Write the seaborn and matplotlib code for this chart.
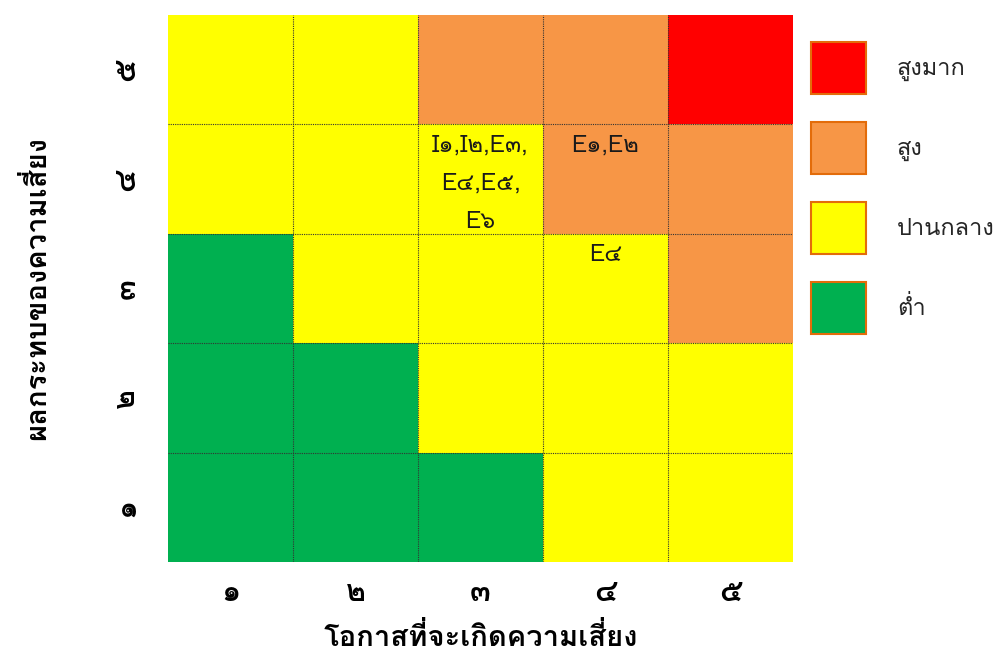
import numpy as np
import pandas as pd
import seaborn as sns
import matplotlib.pyplot as plt
from matplotlib import font_manager
from matplotlib.ft2font import FT2Font
from matplotlib.colors import ListedColormap
from matplotlib.patches import Patch

# ระดับความเสี่ยง: 0 ต่ำ, 1 ปานกลาง, 2 สูง, 3 สูงมาก (แถวบน = ผลกระทบ ๕)
impact_labels = ["๕", "๔", "๓", "๒", "๑"]
chance_labels = ["๑", "๒", "๓", "๔", "๕"]
risk_levels = [
    [1, 1, 2, 2, 3],
    [1, 1, 1, 2, 2],
    [0, 1, 1, 1, 2],
    [0, 0, 1, 1, 1],
    [0, 0, 0, 1, 1],
]
cell_notes = [
    ["", "", "", "", ""],
    ["", "", "I๑,I๒,E๓,\nE๔,E๕,\nE๖", "E๑,E๒", ""],
    ["", "", "", "E๔", ""],
    ["", "", "", "", ""],
    ["", "", "", "", ""],
]
level_names = ["ต่ำ", "ปานกลาง", "สูง", "สูงมาก"]
level_colors = ["#00B050", "#FFFF00", "#F79646", "#FF0000"]


def find_thai_font():
    # หาฟอนต์ที่มีตัวอักษรไทย
    for f in font_manager.fontManager.ttflist:
        try:
            cmap = FT2Font(f.fname).get_charmap()
        except Exception:
            continue
        if 0x0E01 in cmap and 0x0E51 in cmap:
            return f.name
    return None


sns.set_theme(style="white")
thai = find_thai_font()
families = ([thai] if thai else []) + ["DejaVu Sans"]
plt.rcParams["font.family"] = families

df = pd.DataFrame(risk_levels, index=impact_labels, columns=chance_labels)

fig = plt.figure(figsize=(10.02, 6.53), dpi=100)
ax = fig.add_axes([0.1677, 0.1394, 0.6237, 0.8376])
sns.heatmap(df, cmap=ListedColormap(level_colors), vmin=-0.5, vmax=3.5,
            annot=np.array(cell_notes), fmt="", cbar=False, ax=ax,
            annot_kws={"fontsize": 17, "color": "#1a1a1a", "va": "top",
                       "linespacing": 1.85})

# ย้ายข้อความไปด้านบนของช่อง
for t in ax.texts:
    x, y = t.get_position()
    t.set_position((x, y - 0.42))

# เส้นตารางแบบจุด
for k in range(1, 5):
    ax.axhline(k, color="#333333", lw=0.8, ls=(0, (1, 1)))
    ax.axvline(k, color="#333333", lw=0.8, ls=(0, (1, 1)))

ax.tick_params(length=0, colors="black")
ax.tick_params(axis="x", pad=12)
ax.tick_params(axis="y", pad=20)
ax.set_xticklabels(chance_labels, fontsize=22, fontweight="bold", rotation=0)
ax.set_yticklabels(impact_labels, fontsize=22, fontweight="bold", rotation=90,
                   va="center")
ax.set_xlabel("โอกาสที่จะเกิดความเสี่ยง", fontsize=21, fontweight="bold",
              labelpad=12, color="black")
ax.set_ylabel("ผลกระทบของความเสี่ยง", fontsize=21, fontweight="bold",
              labelpad=44, color="black")

handles = [Patch(facecolor=c, edgecolor="#E36C0A", lw=1.5)
           for c in level_colors[::-1]]
ax.legend(handles, level_names[::-1], loc="upper left",
          bbox_to_anchor=(1.014, 0.968), frameon=False, fontsize=17,
          handlelength=2.33, handleheight=3.0, labelspacing=1.2,
          handletextpad=1.3, borderaxespad=0)

fig.savefig("out.png", dpi=100)
